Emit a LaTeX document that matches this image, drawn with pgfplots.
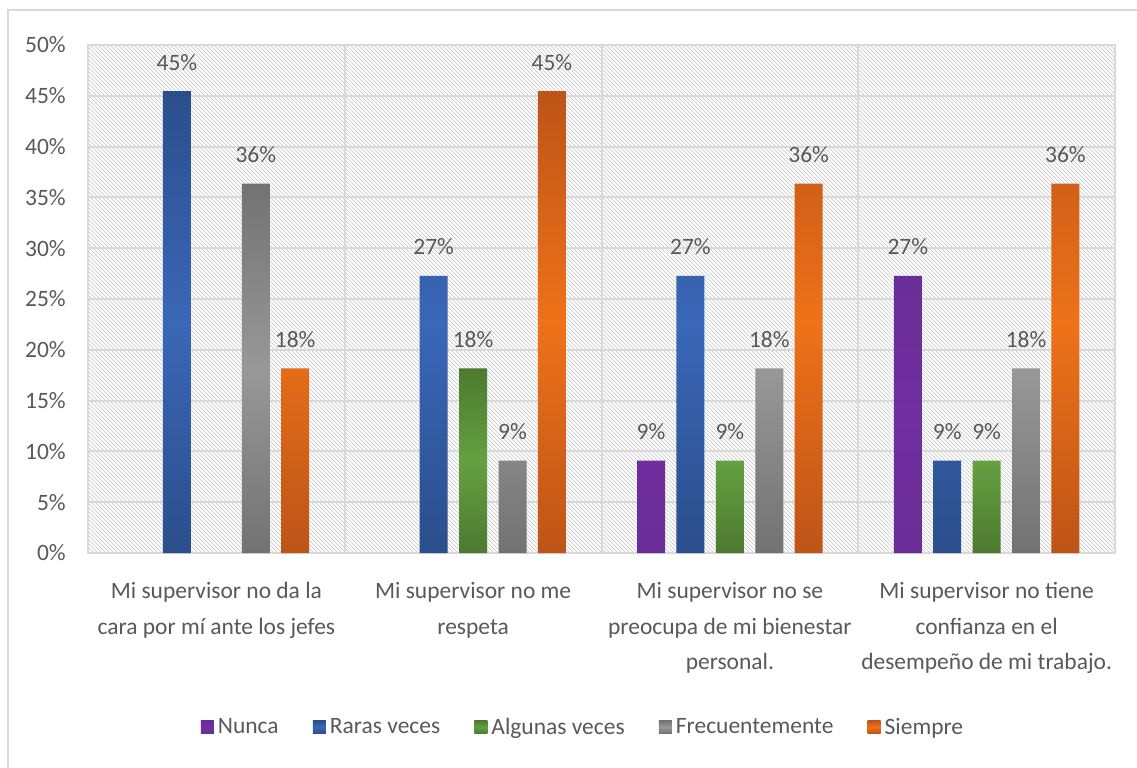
\documentclass[border=0pt]{standalone}
\usepackage{pgfplots}
\pgfplotsset{compat=1.18}
\usepackage{fontspec}
\setmainfont{Carlito}
\usetikzlibrary{patterns}
\definecolor{txt}{HTML}{595959}
\definecolor{gridc}{HTML}{D9D9D9}
\definecolor{hatch}{HTML}{C4C4C4}
\definecolor{purpC}{HTML}{7030A0}
\definecolor{purpE}{HTML}{6A2D98}
\definecolor{blueC}{HTML}{3A67B8}
\definecolor{blueE}{HTML}{2B4E8C}
\definecolor{greenC}{HTML}{65A040}
\definecolor{greenE}{HTML}{4C7A30}
\definecolor{grayC}{HTML}{989898}
\definecolor{grayE}{HTML}{727272}
\definecolor{oraC}{HTML}{EE7219}
\definecolor{oraE}{HTML}{BD5418}
\newcommand\cf{\fontsize{17.6}{26.5}\selectfont}
\begin{document}
\begin{tikzpicture}
\path[use as bounding box] (0,0) rectangle (852.75pt,575.25pt);
\fill[white] (0,0) rectangle (852.75pt,575.25pt);
\draw[gridc, line width=1.5pt] (6pt,-5pt) -- (6pt,567.75pt) -- (860pt,567.75pt);
\begin{axis}[
  at={(66pt,160.5pt)}, anchor=south west,
  scale only axis, width=770.25pt, height=381pt,
  xmin=-0.5, xmax=3.5, ymin=0, ymax=50,
  /pgf/number format/assume math mode=true,
  axis background/.style={pattern=north west lines, pattern color=hatch},
  axis line style={draw=gridc, line width=1.5pt},
  ytick={0,5,...,50},
  yticklabel={\pgfmathprintnumber{\tick}\%},
  yticklabel style={font=\cf, text=txt, anchor=east, inner sep=0pt, xshift=-16.5pt},
  xtick={0,1,2,3},
  xticklabels={{Mi supervisor no da la\\cara por mí ante los jefes},{Mi supervisor no me\\respeta},{Mi supervisor no se\\preocupa de mi bienestar\\personal.},{Mi supervisor no tiene\\confianza en el\\desempeño de mi trabajo.}},
  xticklabel style={font=\cf, text=txt, align=center, anchor=north, inner sep=0pt, yshift=-22pt},
  minor xtick={0.5,1.5,2.5},
  major tick length=0pt, minor tick length=0pt,
  ymajorgrids, xminorgrids,
  grid style={draw=gridc, line width=1.5pt},
  minor grid style={draw=gridc, line width=1.5pt},
  mybar/.style={ybar, bar width=0.109, draw=none,
    nodes near coords={\pgfmathprintnumber[fixed,precision=0]{\pgfplotspointmeta}\%},
    every node near coord/.append style={font=\cf, text=txt, anchor=base, inner sep=0pt, yshift=15.75pt, xshift=#1},
    legend image code/.code={\path[##1] (0pt,-4.875pt) rectangle (9.75pt,4.875pt);}},
  legend style={at={(0.483,-0.3425)}, anchor=center, draw=none, fill=none,
    font=\cf, text=txt, legend columns=5,
    /tikz/every even column/.append style={column sep=22.7pt},
    nodes={inner xsep=3pt}},
]
\addplot[mybar=-59.12pt, bar shift=-0.307, top color=purpE, bottom color=purpE, middle color=purpC]
  coordinates {(2,9.0909) (3,27.2727)};
\addlegendentry{Nunca}
\addplot[mybar=-29.56pt, bar shift=-0.1535, top color=blueE, bottom color=blueE, middle color=blueC]
  coordinates {(0,45.4545) (1,27.2727) (2,27.2727) (3,9.0909)};
\addlegendentry{Raras veces}
\addplot[mybar=0pt, bar shift=0, top color=greenE, bottom color=greenE, middle color=greenC]
  coordinates {(1,18.1818) (2,9.0909) (3,9.0909)};
\addlegendentry{Algunas veces}
\addplot[mybar=29.56pt, bar shift=0.1535, top color=grayE, bottom color=grayE, middle color=grayC]
  coordinates {(0,36.3636) (1,9.0909) (2,18.1818) (3,18.1818)};
\addlegendentry{Frecuentemente}
\addplot[mybar=59.12pt, bar shift=0.307, top color=oraE, bottom color=oraE, middle color=oraC]
  coordinates {(0,18.1818) (1,45.4545) (2,36.3636) (3,36.3636)};
\addlegendentry{Siempre}
\end{axis}
\end{tikzpicture}
\end{document}
